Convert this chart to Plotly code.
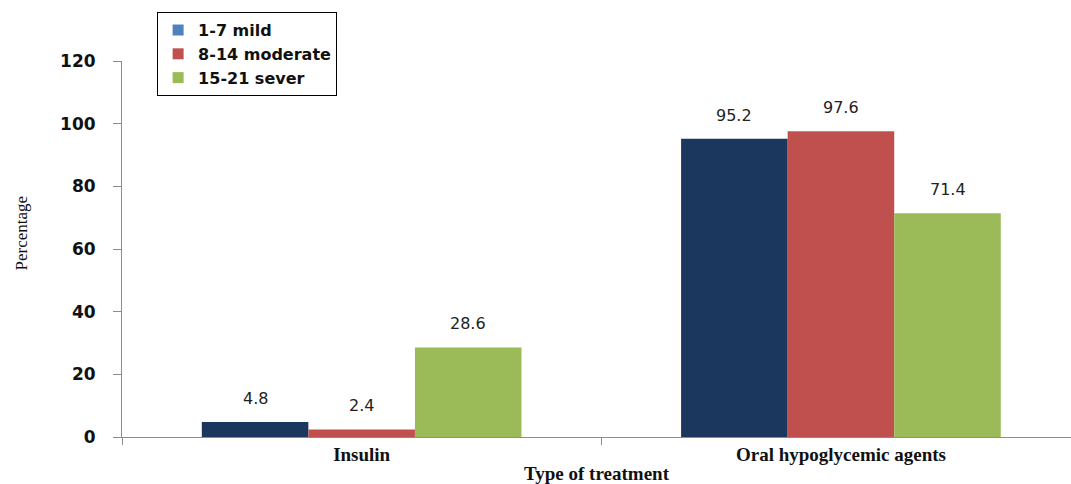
import plotly.graph_objects as go

categories = ["Insulin", "Oral hypoglycemic agents"]
series_names = ["1-7 mild", "8-14 moderate", "15-21 sever"]
mild = [4.8, 95.2]
moderate = [2.4, 97.6]
severe = [28.6, 71.4]
y_ticks = [0, 20, 40, 60, 80, 100, 120]

bar_colors = ["#1B375D", "#C0504D", "#9BBB59"]
legend_colors = ["#4F81BD", "#C0504D", "#9BBB59"]
values = [mild, moderate, severe]

bargap = 0.333
fig = go.Figure()
for name, vals, col in zip(series_names, values, bar_colors):
    fig.add_trace(go.Bar(x=categories, y=vals, name=name, marker_color=col,
                         marker_line_width=0, showlegend=False))
for name, col in zip(series_names, legend_colors):
    fig.add_trace(go.Scatter(x=[None], y=[None], mode="markers", name=name,
                             marker=dict(symbol="square", size=11, color=col)))

slot = (1 - bargap) / 3
for j, vals in enumerate(values):
    for i, v in enumerate(vals):
        fig.add_annotation(x=i + (j - 1) * slot, y=v, text=f"{v}", showarrow=False,
                           yanchor="bottom", yshift=12,
                           font=dict(family="DejaVu Sans", size=16, color="#222"))

fig.add_annotation(xref="paper", yref="paper", x=0, y=0.5, xshift=-113, yshift=16,
                   text="Percentage", textangle=-90, showarrow=False,
                   font=dict(family="Liberation Serif", size=17, color="#111"))

fig.update_layout(
    width=1071, height=484,
    margin=dict(l=122, r=0, t=61, b=47),
    paper_bgcolor="white", plot_bgcolor="white",
    barmode="group", bargap=bargap, bargroupgap=0,
    showlegend=True,
    legend=dict(x=0.037, y=1.13, xanchor="left", yanchor="top",
                bordercolor="black", borderwidth=1, bgcolor="white",
                font=dict(family="DejaVu Sans", size=16, color="#111", weight="bold"),
                tracegroupgap=0, itemwidth=30),
)
fig.update_xaxes(
    type="category", categoryorder="array", categoryarray=categories,
    range=[-0.5, 1.48], showline=True, linecolor="#8c8c8c", linewidth=1,
    ticks="outside", tickson="boundaries", ticklen=7, tickcolor="#8c8c8c",
    tickfont=dict(family="Liberation Serif", size=19, color="#111", weight="bold"),
    title=dict(text="Type of treatment", standoff=9,
               font=dict(family="Liberation Serif", size=19, color="#111", weight="bold")),
    showgrid=False, automargin=False,
)
fig.update_yaxes(
    range=[0, 120], tickvals=y_ticks, showline=True, linecolor="#8c8c8c", linewidth=1,
    ticks="outside", ticklen=8, tickcolor="#8c8c8c", ticklabelstandoff=14,
    tickfont=dict(family="DejaVu Sans", size=17, color="#111", weight="bold"),
    showgrid=False, zeroline=False, automargin=False,
)
fig.write_html("out.html")
